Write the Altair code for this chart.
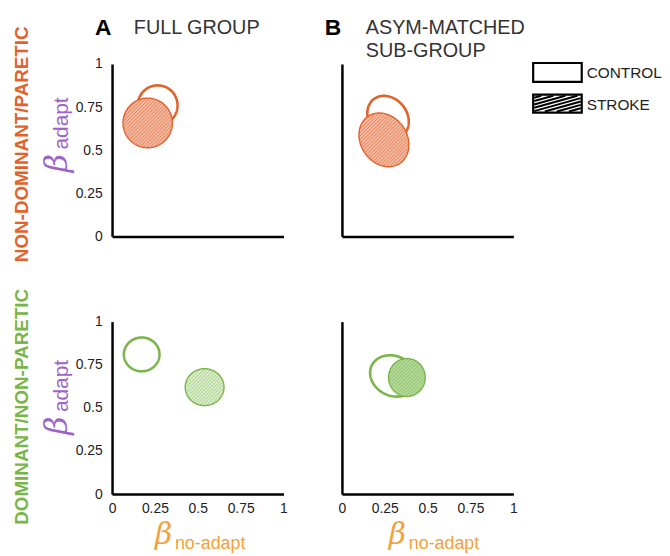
import numpy as np
import pandas as pd
import altair as alt

FONT = "Liberation Sans"

# ---------------- data ----------------
col_letters = ["A", "B"]
col_titles = [["FULL GROUP"], ["ASYM-MATCHED", "SUB-GROUP"]]
row_titles = ["NON-DOMINANT/PARETIC", "DOMINANT/NON-PARETIC"]
groups = ["CONTROL", "STROKE"]
tick_values = [0, 0.25, 0.5, 0.75, 1]
y_title = ["β", "adapt"]
x_title = ["β", "no-adapt"]

# ellipses, panel order: top-A, top-B, bottom-A, bottom-B
control_cx = [0.266, 0.269, 0.173, 0.300]
control_cy = [0.760, 0.690, 0.810, 0.685]
control_a = [0.116, 0.135, 0.104, 0.140]
control_b = [0.116, 0.110, 0.098, 0.115]
control_tilt = [0, -50, 0, -25]

stroke_cx = [0.208, 0.245, 0.540, 0.379]
stroke_cy = [0.658, 0.560, 0.620, 0.676]
stroke_a = [0.144, 0.165, 0.113, 0.107]
stroke_b = [0.144, 0.135, 0.107, 0.110]
stroke_tilt = [0, -55, 0, 0]

# ---------------- style ----------------
ORANGE = "#E2622A"
GREEN = "#79B548"
PURPLE = "#A064C8"
XORANGE = "#F2A23A"
row_color = [ORANGE, GREEN]
fill_base = ["#F3B89E", "#F3B89E", "#DCEECD", "#B5D99A"]
fill_hatch = ["#E2744A", "#E2744A", "#92C56E", "#82BB5C"]


def outline(cx, cy, a, b, tilt):
    th = np.radians(tilt)
    t = np.linspace(0, 2 * np.pi, 181)
    x = cx + a * np.cos(t) * np.cos(th) - b * np.sin(t) * np.sin(th)
    y = cy + a * np.cos(t) * np.sin(th) + b * np.sin(t) * np.cos(th)
    return pd.DataFrame({"x": x, "y": y, "i": np.arange(len(t))})


def span(cx, cy, a, b, tilt):
    th = np.radians(tilt)
    c, s = np.cos(th), np.sin(th)
    hw = np.sqrt(a**2 * c**2 + b**2 * s**2)
    xs = cx + hw * np.cos(np.linspace(np.pi, 0, 161))
    dx = xs - cx
    A = s**2 / a**2 + c**2 / b**2
    B = 2 * dx * c * s * (1 / a**2 - 1 / b**2)
    C = dx**2 * (c**2 / a**2 + s**2 / b**2) - 1
    disc = np.sqrt(np.clip(B**2 - 4 * A * C, 0, None))
    return pd.DataFrame({"x": xs, "y": cy + (-B + disc) / (2 * A),
                         "y2": cy + (-B - disc) / (2 * A)})


def hatch(cx, cy, a, b, tilt, step=0.0145):
    th = np.radians(tilt)
    e1 = np.array([np.cos(th), np.sin(th)])
    e2 = np.array([-np.sin(th), np.cos(th)])
    u = np.array([1, 1]) / np.sqrt(2)
    n = np.array([1, -1]) / np.sqrt(2)
    u1, u2 = u @ e1, u @ e2
    n1, n2 = n @ e1, n @ e2
    rows = []
    R = max(a, b)
    for d in np.arange(-R + step / 2, R, step):
        A = u1**2 / a**2 + u2**2 / b**2
        B = 2 * d * (n1 * u1 / a**2 + n2 * u2 / b**2)
        C = d**2 * (n1**2 / a**2 + n2**2 / b**2) - 1
        disc = B**2 - 4 * A * C
        if disc <= 0:
            continue
        s1 = (-B - np.sqrt(disc)) / (2 * A)
        s2 = (-B + np.sqrt(disc)) / (2 * A)
        p1 = np.array([cx, cy]) + d * n + s1 * u
        p2 = np.array([cx, cy]) + d * n + s2 * u
        rows.append({"x": p1[0], "y": p1[1], "x2": p2[0], "y2": p2[1]})
    return pd.DataFrame(rows)


def txt(s, x, y, size, color, **kw):
    return alt.Chart(pd.DataFrame({"t": [s]})).mark_text(
        font=kw.pop("font", FONT), fontSize=size, color=color, **kw
    ).encode(x=alt.value(x), y=alt.value(y), text="t:N")


def panel(k, row, col):
    X = alt.X("x:Q", title=None,
              scale=alt.Scale(domain=[0, 1], nice=False, zero=False),
              axis=alt.Axis(values=tick_values, format=".2~f", labels=(row == 1),
                            ticks=False, grid=False, domainColor="black",
                            domainWidth=2.5, labelFont=FONT, labelFontSize=14,
                            labelColor="#222", labelPadding=8, labelFlush=False))
    Y = alt.Y("y:Q", title=None,
              scale=alt.Scale(domain=[0, 1], nice=False, zero=False),
              axis=alt.Axis(values=tick_values, format=".2~f", labels=(col == 0),
                            ticks=False, grid=False, domainColor="black",
                            domainWidth=2.5, labelFont=FONT, labelFontSize=14,
                            labelColor="#222", labelPadding=10, labelFlush=False))
    color = row_color[row]
    ctrl = alt.Chart(outline(control_cx[k], control_cy[k], control_a[k],
                             control_b[k], control_tilt[k])).mark_line(
        color=color, strokeWidth=2.6).encode(x=X, y=Y, order="i:Q")
    sfill = alt.Chart(span(stroke_cx[k], stroke_cy[k], stroke_a[k],
                           stroke_b[k], stroke_tilt[k])).mark_area(
        color=fill_base[k], opacity=1).encode(x=X, y=Y, y2="y2:Q")
    shatch = alt.Chart(hatch(stroke_cx[k], stroke_cy[k], stroke_a[k],
                             stroke_b[k], stroke_tilt[k])).mark_rule(
        color=fill_hatch[k], strokeWidth=1, opacity=0.8).encode(
        x=X, y=Y, x2="x2:Q", y2="y2:Q")
    sline = alt.Chart(outline(stroke_cx[k], stroke_cy[k], stroke_a[k],
                              stroke_b[k], stroke_tilt[k])).mark_line(
        color=color, strokeWidth=1.4).encode(x=X, y=Y, order="i:Q")
    layers = [ctrl, sfill, shatch, sline]

    if row == 0:
        layers.append(txt(col_letters[col], -9, -36, 23, "black",
                          fontWeight="bold", align="center"))
        for j, line in enumerate(col_titles[col]):
            layers.append(txt(line, 22 if col == 0 else 24, -36 + 23 * j, 20,
                              "#333", align="left"))
    if col == 0:
        layers.append(txt(row_titles[row], -91, 81 if row == 0 else 86, 19,
                          color, fontWeight="bold", angle=270, align="center",
                          baseline="middle"))
        layers.append(txt(y_title[0], -55, 100 + 5 * row, 32, PURPLE,
                          font="DejaVu Serif", fontStyle="italic", angle=270,
                          align="center", baseline="middle"))
        layers.append(txt(y_title[1], -50, 60 + 5 * row, 21, PURPLE, angle=270,
                          align="center", baseline="middle"))
    if row == 1:
        bx = 52 if col == 0 else 56
        layers.append(txt(x_title[0], bx, 215, 30, XORANGE, font="DejaVu Serif",
                          fontStyle="italic", align="center", baseline="middle"))
        layers.append(txt(x_title[1], bx + 47, 224, 18, XORANGE, align="center"))
    if row == 0 and col == 1:
        one = pd.DataFrame({"k": [0]})
        bx0, bx1 = 193, 242
        boxes = [(-1, 18), (31, 49)]
        for (y0, y1) in boxes:
            layers.append(alt.Chart(one).mark_rect(
                fill="white", stroke="black", strokeWidth=2.2).encode(
                x=alt.value(bx0), x2=alt.value(bx1), y=alt.value(y0),
                y2=alt.value(y1)))
        # hatch of legend box
        x0, x1, yt, yb = bx0 + 1, bx1 - 1, 32, 48
        m = 0.28
        for c in np.arange(yt + 2, yb + (x1 - x0) * m, 3.4):
            xa, ya = x0, c
            if ya > yb:
                xa = x0 + (ya - yb) / m
                ya = yb
            xb = x1
            yb_ = c - m * (x1 - x0)
            if yb_ < yt:
                xb = x0 + (c - yt) / m
                yb_ = yt
            if xa >= xb:
                continue
            layers.append(alt.Chart(one).mark_rule(
                color="black", strokeWidth=2).encode(
                x=alt.value(float(xa)), x2=alt.value(float(xb)),
                y=alt.value(float(ya)), y2=alt.value(float(yb_))))
        layers.append(txt(groups[0], 247, 9, 15.5, "#222", align="left",
                          baseline="middle"))
        layers.append(txt(groups[1], 247, 41, 15.5, "#222", align="left",
                          baseline="middle"))

    return alt.layer(*layers).properties(width=173, height=174)


panels = [panel(0, 0, 0), panel(1, 0, 1), panel(2, 1, 0), panel(3, 1, 1)]
chart = alt.concat(*panels, columns=2, spacing={"row": 86, "column": 59},
                   bounds="flush",
                   padding={"left": 5, "top": 7, "right": 0, "bottom": 0}
                   ).configure_view(stroke=None)

chart.save("out.html", embed_options={"renderer": "svg", "actions": False})
